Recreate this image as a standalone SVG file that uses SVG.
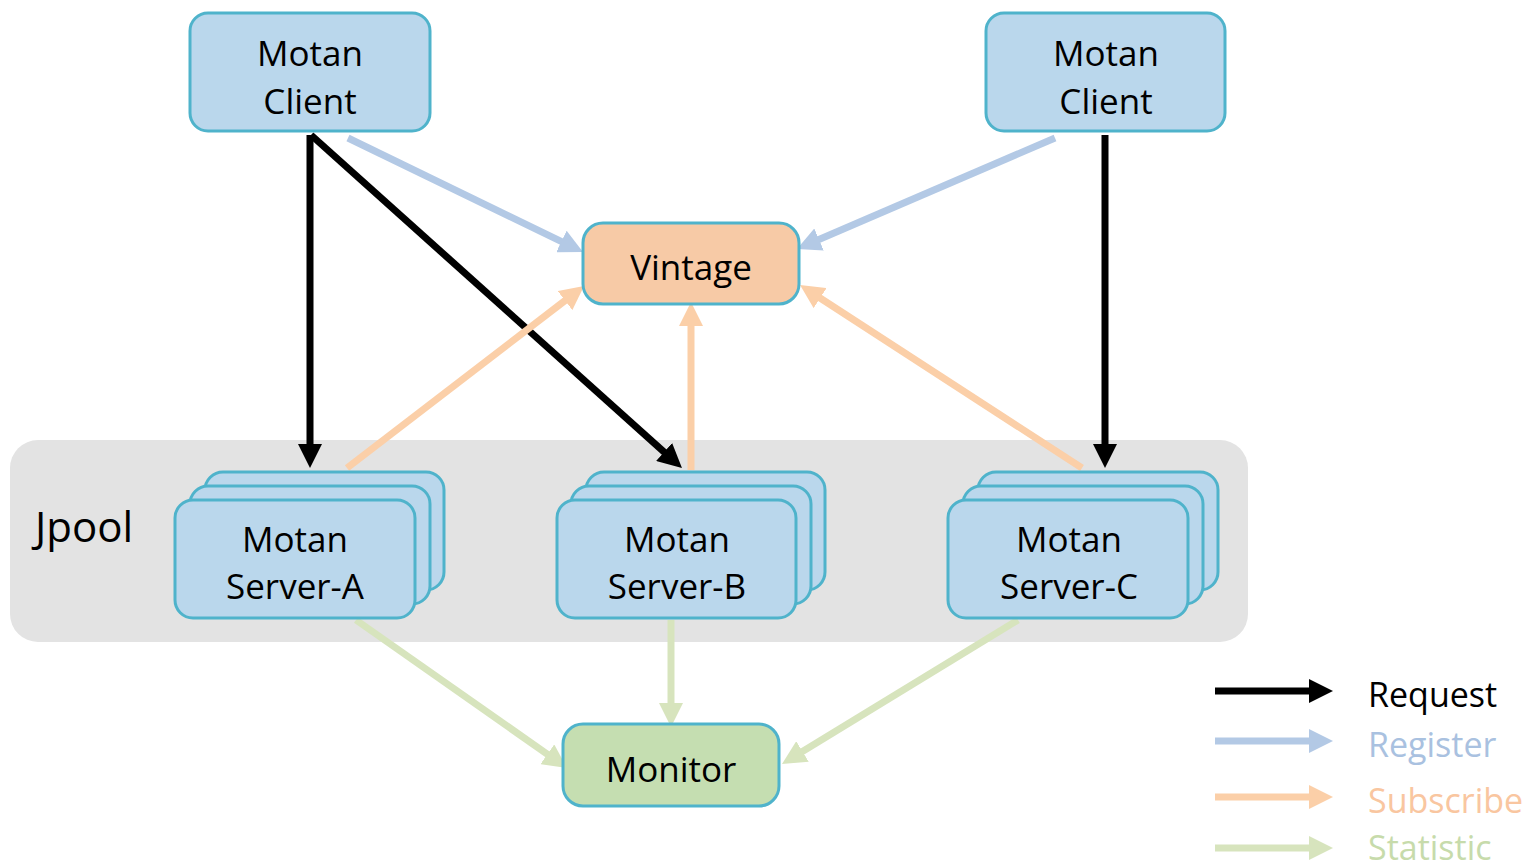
<svg xmlns="http://www.w3.org/2000/svg" width="1527" height="868" viewBox="0 0 1527 868">
<style>
text{font-family:"Open Sans","Liberation Sans",sans-serif;text-anchor:middle;fill:#000}
.n{font-size:35px}
.node{fill:#bad7ec;stroke:#4fb3cb;stroke-width:3}
.c{fill:none;stroke-width:7}
.req{stroke:#000}.reg{stroke:#b3c9e5}.sub{stroke:#fbcfa8}.sta{stroke:#d7e4bd}
.lg{font-size:34px;text-anchor:start}
</style>
<defs>
<marker id="ak" markerUnits="userSpaceOnUse" markerWidth="24" markerHeight="24" refX="2" refY="12" orient="auto"><path d="M0,0 L24,12 L0,24 z" fill="#000"/></marker>
<marker id="ab" markerUnits="userSpaceOnUse" markerWidth="24" markerHeight="24" refX="2" refY="12" orient="auto"><path d="M0,0 L24,12 L0,24 z" fill="#b3c9e5"/></marker>
<marker id="ao" markerUnits="userSpaceOnUse" markerWidth="24" markerHeight="24" refX="2" refY="12" orient="auto"><path d="M0,0 L24,12 L0,24 z" fill="#fbcfa8"/></marker>
<marker id="ag" markerUnits="userSpaceOnUse" markerWidth="24" markerHeight="24" refX="2" refY="12" orient="auto"><path d="M0,0 L24,12 L0,24 z" fill="#d7e4bd"/></marker>
</defs>
<rect width="1527" height="868" fill="#fff"/>
<g id="jpool">
<rect x="10" y="440" width="1238" height="202" rx="28" fill="#e3e3e3"/>
<text x="84" y="542" style="font-size:42px">Jpool</text>
</g>
<g id="connectors">
<line class="c req" x1="310" y1="135" x2="310" y2="446" marker-end="url(#ak)"/>
<line class="c req" x1="311" y1="135" x2="665.6" y2="453.3" marker-end="url(#ak)"/>
<line class="c req" x1="1105" y1="135" x2="1105" y2="446" marker-end="url(#ak)"/>
<line class="c reg" x1="348" y1="138" x2="563.2" y2="242.4" marker-end="url(#ab)"/>
<line class="c reg" x1="1055" y1="138" x2="817.2" y2="240.3" marker-end="url(#ab)"/>
<line class="c sub" x1="347" y1="468" x2="566.6" y2="299.4" marker-end="url(#ao)"/>
<line class="c sub" x1="691" y1="470" x2="691" y2="324" marker-end="url(#ao)"/>
<line class="c sub" x1="1082" y1="468" x2="818.5" y2="297" marker-end="url(#ao)"/>
<line class="c sta" x1="356" y1="620" x2="549" y2="755.4" marker-end="url(#ag)"/>
<line class="c sta" x1="671" y1="620" x2="671" y2="705" marker-end="url(#ag)"/>
<line class="c sta" x1="1018" y1="620" x2="800.8" y2="752.5" marker-end="url(#ag)"/>
</g>
<g id="client-left">
<rect class="node" x="190" y="13" width="240" height="118" rx="18"/>
<text class="n" x="310" y="66">Motan</text>
<text class="n" x="310" y="114">Client</text>
</g>
<g id="client-right">
<rect class="node" x="986" y="13" width="239" height="118" rx="18"/>
<text class="n" x="1106" y="66">Motan</text>
<text class="n" x="1106" y="114">Client</text>
</g>
<g id="vintage">
<rect x="583" y="223" width="216" height="81" rx="20" fill="#f7caa6" stroke="#4fb3cb" stroke-width="3"/>
<text class="n" x="691" y="280">Vintage</text>
</g>
<g id="server-a">
<rect class="node" x="205" y="472" width="239" height="118" rx="18"/>
<rect class="node" x="190" y="486" width="240" height="118" rx="18"/>
<rect class="node" x="175" y="500" width="240" height="118" rx="18"/>
<text class="n" x="295" y="552">Motan</text>
<text class="n" x="295" y="599">Server-A</text>
</g>
<g id="server-b">
<rect class="node" x="586" y="472" width="239" height="118" rx="18"/>
<rect class="node" x="571" y="486" width="240" height="118" rx="18"/>
<rect class="node" x="557" y="500" width="239" height="118" rx="18"/>
<text class="n" x="677" y="552">Motan</text>
<text class="n" x="677" y="599">Server-B</text>
</g>
<g id="server-c">
<rect class="node" x="978" y="472" width="240" height="118" rx="18"/>
<rect class="node" x="963" y="486" width="240" height="118" rx="18"/>
<rect class="node" x="948" y="500" width="240" height="118" rx="18"/>
<text class="n" x="1069" y="552">Motan</text>
<text class="n" x="1069" y="599">Server-C</text>
</g>
<g id="monitor">
<rect x="563" y="724" width="216" height="82" rx="20" fill="#c5deb1" stroke="#4fb3cb" stroke-width="3"/>
<text class="n" x="671" y="782">Monitor</text>
</g>
<g id="legend">
<line class="c req" x1="1215" y1="691" x2="1311" y2="691" marker-end="url(#ak)"/>
<line class="c reg" x1="1215" y1="741" x2="1311" y2="741" marker-end="url(#ab)"/>
<line class="c sub" x1="1215" y1="797" x2="1311" y2="797" marker-end="url(#ao)"/>
<line class="c sta" x1="1215" y1="848" x2="1311" y2="848" marker-end="url(#ag)"/>
<text class="lg" x="1368" y="707">Request</text>
<text class="lg" x="1368" y="757" style="fill:#a9c1e0">Register</text>
<text class="lg" x="1368" y="813" style="fill:#f9c6a0">Subscribe</text>
<text class="lg" x="1368" y="860" style="fill:#c7dbab">Statistic</text>
</g>
</svg>
